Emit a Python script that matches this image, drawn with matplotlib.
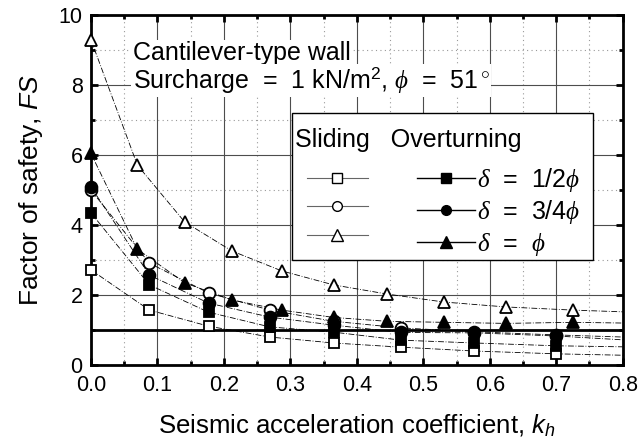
import numpy as np
import matplotlib
matplotlib.use("Agg")
from matplotlib import pyplot as plt
from matplotlib.lines import Line2D
from matplotlib.patches import Rectangle
from matplotlib.legend_handler import HandlerLine2D

plt.rcParams["font.family"] = ["Liberation Sans", "DejaVu Sans"]
plt.rcParams["mathtext.fontset"] = "custom"
plt.rcParams["mathtext.rm"] = "Liberation Sans"
plt.rcParams["mathtext.it"] = "Liberation Serif:italic"
plt.rcParams["mathtext.sf"] = "Liberation Sans:italic"

# data
kh_tri = [0.0, 0.07, 0.141, 0.212, 0.287, 0.365, 0.445, 0.531, 0.624, 0.725]
fs_slide_phi = [9.3, 5.71, 4.09, 3.26, 2.69, 2.29, 2.03, 1.80, 1.66, 1.57]
fs_over_phi = [6.05, 3.31, 2.35, 1.86, 1.57, 1.36, 1.25, 1.22, 1.19, 1.22]

kh_sq = [0.0, 0.088, 0.177, 0.269, 0.365, 0.467, 0.577, 0.70]
fs_slide_half = [2.72, 1.57, 1.11, 0.80, 0.63, 0.51, 0.40, 0.32]
fs_slide_34 = [5.0, 2.91, 2.06, 1.57, 1.25, 1.06, 0.95, 0.86]
fs_over_half = [4.35, 2.29, 1.51, 1.09, 0.94, 0.71, 0.63, 0.55]
fs_over_34 = [5.09, 2.57, 1.77, 1.37, 1.14, 0.93, 0.92, 0.83]

# where the fitted curves leave the plot at kh = 0.8
kh_end = 0.8
end_slide_half, end_slide_34, end_over_half, end_over_34 = 0.28, 0.80, 0.52, 0.72
end_slide_phi, end_over_phi = 1.52, 1.2

fig = plt.figure(figsize=(6.4, 4.43), dpi=100)
ax = fig.add_axes([0.142, 0.176, 0.831, 0.790])

ls_fit = (0, (7, 2, 1, 2))
series = [
    (kh_sq, fs_slide_half, end_slide_half, "s", "white", 7.5),
    (kh_sq, fs_slide_34, end_slide_34, "o", "white", 8.5),
    (kh_tri, fs_slide_phi, end_slide_phi, "^", "white", 9),
    (kh_sq, fs_over_half, end_over_half, "s", "black", 7.5),
    (kh_sq, fs_over_34, end_over_34, "o", "black", 8.5),
    (kh_tri, fs_over_phi, end_over_phi, "^", "black", 9),
]
for k, fs, fend, m, fc, ms in series:
    ax.plot(list(k) + [kh_end], list(fs) + [fend], color="black", lw=0.6,
            ls=ls_fit, zorder=2)
for k, fs, fend, m, fc, ms in series:
    ax.plot(k, fs, ls="none", marker=m, ms=ms, mfc=fc, mec="black",
            mew=1.3, zorder=4 if fc == "black" else 3, clip_on=False)

ax.axhline(1.0, color="black", lw=2, zorder=2.5)

ax.set_xlim(0, 0.8)
ax.set_ylim(0, 10)
ax.set_xticks(np.arange(0, 0.81, 0.1))
ax.set_xticks(np.arange(0.05, 0.8, 0.1), minor=True)
ax.set_yticks(np.arange(0, 11, 2))
ax.set_yticks(np.arange(1, 10, 2), minor=True)
ax.xaxis.set_major_formatter(plt.FormatStrFormatter("%.1f"))
ax.grid(which="major", color="0.3", lw=0.8)
ax.grid(which="minor", color="0.6", lw=0.8, ls=(0, (1, 3)))
ax.set_axisbelow(True)
ax.tick_params(which="both", direction="in", top=True, right=True,
               labelsize=15.5, width=2)
ax.tick_params(which="major", length=5)
ax.tick_params(which="minor", length=3)
ax.tick_params(axis="x", which="major", pad=7)
ax.tick_params(axis="y", which="major", pad=6)
for s in ax.spines.values():
    s.set_linewidth(2)

ax.set_xlabel(r"Seismic acceleration coefficient, $\mathsf{k}_\mathsf{h}$",
              fontsize=18.5, labelpad=12)
ax.set_ylabel(r"Factor of safety, $\mathsf{FS}$", fontsize=19, labelpad=10)

ax.text(0.063, 8.71, "Cantilever-type wall", fontsize=18, va="baseline",
        zorder=6, bbox=dict(fc="white", ec="none", pad=1))
ax.text(0.063, 7.91, r"Surcharge  =  1 kN/m$^2$, $\phi$  =  51$^\circ$",
        fontsize=18, va="baseline", zorder=6,
        bbox=dict(fc="white", ec="none", pad=1))

# legend: frame + header drawn separately, entries via ax.legend
box = Rectangle((0.378, 0.30), 0.566, 0.42, transform=ax.transAxes,
                fc="white", ec="black", lw=1, zorder=6.5)
ax.add_patch(box)
ax.text(0.383, 0.643, "Sliding   Overturning", transform=ax.transAxes,
        fontsize=18, va="center", ha="left", zorder=7)

handles = [
    Line2D([], [], color="0.4", lw=0.8, marker="s", ms=6.5, mfc="white", mec="black"),
    Line2D([], [], color="0.4", lw=0.8, marker="o", ms=7, mfc="white", mec="black"),
    Line2D([], [], color="0.4", lw=0.8, marker="^", ms=8, mfc="white", mec="black"),
    Line2D([], [], color="black", lw=1, marker="s", ms=6.5, mfc="black", mec="black"),
    Line2D([], [], color="black", lw=1, marker="o", ms=7, mfc="black", mec="black"),
    Line2D([], [], color="black", lw=1, marker="^", ms=8, mfc="black", mec="black"),
]
labels = ["", "", "",
          r"$\delta$  =  1/2$\phi$", r"$\delta$  =  3/4$\phi$", r"$\delta$  =  $\phi$"]
hmap = {h: HandlerLine2D(xpad=0.5) for h in handles[:3]}
hmap.update({h: HandlerLine2D(xpad=0.62) for h in handles[3:]})
leg = ax.legend(handles, labels, ncol=2, loc="center left",
                bbox_to_anchor=(0.3825, 0.438), borderaxespad=0,
                fontsize=18, frameon=False, handler_map=hmap,
                handlelength=2.94, handletextpad=0.1,
                columnspacing=1.24, labelspacing=0.18, borderpad=0)
leg.set_zorder(7)

fig.savefig("out.png", dpi=100)
